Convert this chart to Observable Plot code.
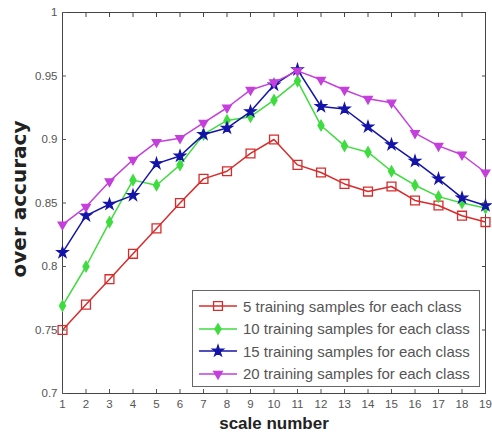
<!DOCTYPE html>
<html><head><meta charset="utf-8">
<script src="https://cdn.jsdelivr.net/npm/d3@7"></script>
<script src="https://cdn.jsdelivr.net/npm/@observablehq/plot@0.6"></script>
<style>
body{margin:0;background:#fff;}
#wrap{position:relative;width:492px;height:441px;font-family:"Liberation Sans",Arial,sans-serif;}
#legend{position:absolute;left:192px;top:290px;width:288px;height:97px;border:1px solid #666;background:#fff;box-sizing:border-box;padding-top:4px;}
.row{height:22.5px;display:flex;align-items:center;font-size:15px;color:#555;white-space:nowrap;}
.row svg{margin-left:6px;margin-right:6px;}
</style></head><body><div id="wrap"></div>
<script>
const scaleNumbers = [1,2,3,4,5,6,7,8,9,10,11,12,13,14,15,16,17,18,19];
const yTicks = [0.7,0.75,0.8,0.85,0.9,0.95,1];
const seriesNames = [
  "5 training samples for each class",
  "10 training samples for each class",
  "15 training samples for each class",
  "20 training samples for each class"
];
const acc5  = [0.750,0.770,0.790,0.810,0.830,0.850,0.869,0.875,0.889,0.900,0.880,0.874,0.865,0.859,0.863,0.852,0.848,0.840,0.835];
const acc10 = [0.769,0.800,0.835,0.868,0.864,0.880,0.904,0.915,0.918,0.931,0.946,0.911,0.895,0.890,0.875,0.864,0.855,0.850,0.846];
const acc15 = [0.811,0.840,0.849,0.856,0.881,0.887,0.904,0.909,0.922,0.943,0.955,0.926,0.924,0.910,0.896,0.883,0.869,0.854,0.848];
const acc20 = [0.833,0.847,0.867,0.884,0.898,0.901,0.913,0.925,0.939,0.945,0.954,0.947,0.939,0.932,0.929,0.905,0.895,0.888,0.874];
const seriesValues = [acc5, acc10, acc15, acc20];

const styles = [
  {color:"#d82c2c", symbol:"square", fill:"none", r:5, rotate:0},
  {color:"#3fdc3f", symbol:"diamond", fill:"#3fdc3f", r:3.2, rotate:0},
  {color:"#1414a8", symbol:"star", fill:"#1414a8", r:3.4, rotate:0},
  {color:"#c43fdc", symbol:"triangle", fill:"#c43fdc", r:3.2, rotate:180}
];

const marks = [Plot.frame({stroke:"#444"})];
seriesValues.forEach((vals, i) => {
  const data = scaleNumbers.map((x, j) => ({x, v: vals[j]}));
  const st = styles[i];
  marks.push(Plot.line(data, {x:"x", y:"v", stroke:st.color, strokeWidth:1.5}));
  marks.push(Plot.dot(data, {x:"x", y:"v", symbol:st.symbol, r:st.r, stroke:st.color, fill:st.fill, strokeWidth:1.3, rotate:st.rotate}));
});
marks.push(
  Plot.axisX({ticks:scaleNumbers, tickSize:-4, tickPadding:10, tickFormat:d=>String(d), fontSize:11.5, color:"#555", label:null}),
  Plot.axisX({anchor:"top", ticks:scaleNumbers, tickSize:-4, tickFormat:()=>"", color:"#444", label:null}),
  Plot.axisY({ticks:yTicks, tickSize:-4, tickPadding:9, tickFormat:d=>String(+d.toFixed(2)), fontSize:11.5, color:"#555", label:null}),
  Plot.axisY({anchor:"right", ticks:yTicks, tickSize:-4, tickFormat:()=>"", color:"#444", label:null}),
  Plot.text(["scale number"], {frameAnchor:"bottom", dy:35, fontSize:17, fontWeight:"bold", fill:"#222"}),
  Plot.text(["over accuracy"], {frameAnchor:"left", textAnchor:"middle", rotate:-90, dx:-43, dy:-4, fontSize:20, fontWeight:"bold", fill:"#222", fontFamily:"DejaVu Sans"})
);

const chart = Plot.plot({
  width:492, height:441,
  marginLeft:62, marginRight:7, marginTop:12, marginBottom:48,
  style:{fontFamily:"'Liberation Sans', Arial, sans-serif", background:"#fff"},
  x:{domain:[1,19]},
  y:{domain:[0.7,1]},
  marks
});
const wrap = document.getElementById("wrap");
wrap.appendChild(chart);

// legend
const legend = document.createElement("div");
legend.id = "legend";
seriesNames.forEach((name, i) => {
  const st = styles[i];
  const row = document.createElement("div");
  row.className = "row";
  const svg = d3.create("svg").attr("width", 38).attr("height", 16);
  svg.append("line").attr("x1",0).attr("x2",38).attr("y1",8).attr("y2",8).attr("stroke",st.color).attr("stroke-width",1.5);
  svg.append("path").attr("d", d3.symbol(d3["symbol" + st.symbol[0].toUpperCase() + st.symbol.slice(1)], Math.PI*st.r*st.r)())
    .attr("transform", `translate(19,8) rotate(${st.rotate})`).attr("stroke", st.color).attr("fill", st.fill === "none" ? "none" : st.fill).attr("stroke-width",1.3);
  row.appendChild(svg.node());
  const span = document.createElement("span");
  span.textContent = name;
  row.appendChild(span);
  legend.appendChild(row);
});
wrap.appendChild(legend);
</script></body></html>
